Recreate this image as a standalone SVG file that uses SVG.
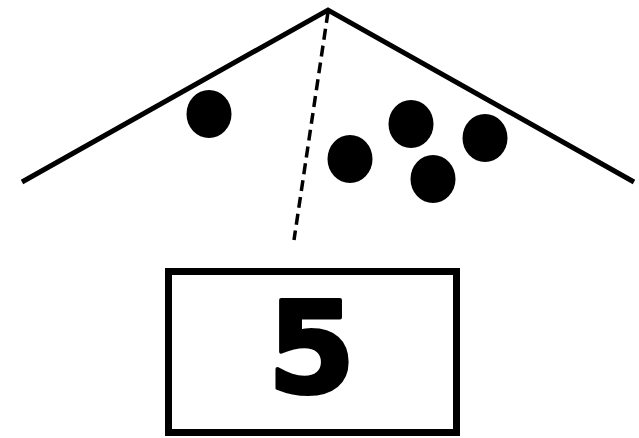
<svg xmlns="http://www.w3.org/2000/svg" width="639" height="438" viewBox="0 0 639 438">
<style>
.roof{fill:none;stroke:#000;stroke-width:5;stroke-linejoin:miter;stroke-linecap:butt}
.dash{fill:none;stroke:#000;stroke-width:3.5;stroke-dasharray:11 6}
.dot{fill:#000}
.box{fill:#fff;stroke:#000;stroke-width:7}
.num{font-family:"DejaVu Sans",sans-serif;font-weight:bold;font-size:126px;fill:#000;stroke:#000;stroke-width:4;stroke-linejoin:round}
</style>
<rect width="639" height="438" fill="#fff"/>
<g id="connectors">
<polyline class="roof" points="22,182 328,10 634,182"/>
<line class="dash" x1="328" y1="12" x2="294" y2="240"/>
</g>
<g id="dots">
<ellipse class="dot" cx="209" cy="114" rx="22.5" ry="24"/>
<ellipse class="dot" cx="350" cy="159" rx="22.5" ry="24"/>
<ellipse class="dot" cx="411" cy="124" rx="22.5" ry="24"/>
<ellipse class="dot" cx="485" cy="138" rx="22.5" ry="24"/>
<ellipse class="dot" cx="433" cy="179" rx="22.5" ry="24"/>
</g>
<g id="box">
<rect class="box" x="168.5" y="271.5" width="288" height="161"/>
<text class="num" x="311.5" y="392" text-anchor="middle">5</text>
</g>
</svg>
